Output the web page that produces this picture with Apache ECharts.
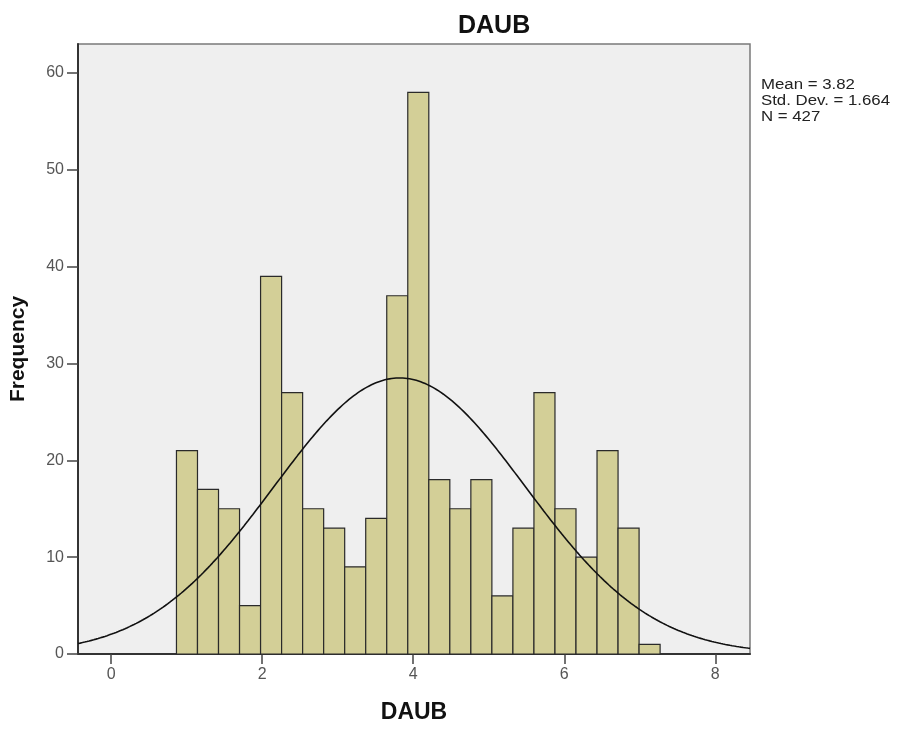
<!DOCTYPE html>
<html>
<head>
<meta charset="utf-8">
<title>DAUB</title>
<script src="https://cdn.jsdelivr.net/npm/echarts@6/dist/echarts.min.js"></script>
<style>
  html, body { margin: 0; padding: 0; background: #ffffff; }
  #chart { width: 901px; height: 729px; }
</style>
</head>
<body>
<div id="chart"></div>
<script>
// Histogram bins of DAUB: first bin's lower edge and common bin width
const binStart = 0.864;
const binWidth = 0.2785;
// Frequency per bin, left to right
const counts = [21, 17, 15, 5, 39, 27, 15, 13, 9, 14, 37, 58, 18, 15, 18, 6, 13, 27, 15, 10, 21, 13, 1];

// Summary statistics shown beside the plot
const statMean = 3.82;
const statSd = 1.664;
const statN = 427;

// Axis ticks
const xTicks = [0, 2, 4, 6, 8];
const yTicks = [0, 10, 20, 30, 40, 50, 60];
const xRange = [-0.44, 8.46];
const yRange = [0, 63];

const barData = counts.map((c, i) => [binStart + i * binWidth, binStart + (i + 1) * binWidth, c]);

// Normal curve scaled to the histogram (N * bin width * density)
const curveData = [];
const steps = 300;
for (let k = 0; k <= steps; k++) {
  const x = xRange[0] + (xRange[1] - xRange[0]) * k / steps;
  const z = (x - statMean) / statSd;
  const y = statN * binWidth * Math.exp(-0.5 * z * z) / (statSd * Math.sqrt(2 * Math.PI));
  curveData.push([x, y]);
}

const chart = echarts.init(document.getElementById('chart'), null, { renderer: 'canvas' });
const font = '"Liberation Sans", Arial, sans-serif';

chart.setOption({
  animation: false,
  backgroundColor: '#ffffff',
  grid: {
    left: 78, right: 151, top: 44, bottom: 71,
    show: true,
    backgroundColor: '#efefef',
    borderColor: '#7a7a7a',
    borderWidth: 1.5
  },
  xAxis: {
    type: 'value',
    min: xRange[0],
    max: xRange[1],
    name: 'DAUB',
    nameLocation: 'middle',
    nameGap: 47,
    nameTextStyle: { fontFamily: font, fontWeight: 'bold', fontSize: 23, color: '#111' },
    axisLine: { show: true, onZero: false, lineStyle: { color: '#333', width: 2 } },
    axisTick: { show: true, customValues: xTicks, length: 10, lineStyle: { color: '#444', width: 1.5 } },
    axisLabel: { customValues: xTicks, fontFamily: font, fontSize: 16, color: '#555', margin: 13 },
    splitLine: { show: false }
  },
  yAxis: {
    type: 'value',
    min: yRange[0],
    max: yRange[1],
    name: 'Frequency',
    nameLocation: 'middle',
    nameRotate: 90,
    nameGap: 49,
    nameTextStyle: { fontFamily: font, fontWeight: 'bold', fontSize: 21, color: '#111' },
    axisLine: { show: true, onZero: false, lineStyle: { color: '#333', width: 2 } },
    axisTick: { show: true, customValues: yTicks, length: 11, lineStyle: { color: '#444', width: 1.5 } },
    axisLabel: { customValues: yTicks, fontFamily: font, fontSize: 16, color: '#555', margin: 14 },
    splitLine: { show: false }
  },
  graphic: [
    {
      type: 'text', left: 458, top: 14,
      style: { text: 'DAUB', fontFamily: font, fontWeight: 'bold', fontSize: 25, fill: '#111' }
    },
    {
      type: 'text', left: 761, top: 77, scaleX: 1.2,
      style: {
        text: 'Mean = ' + statMean + '\nStd. Dev. = ' + statSd + '\nN = ' + statN,
        fontFamily: font, fontSize: 14, lineHeight: 16, fill: '#222'
      }
    }
  ],
  series: [
    {
      type: 'custom',
      data: barData,
      encode: { x: [0, 1], y: 2 },
      renderItem: function (params, api) {
        const p0 = api.coord([api.value(0), api.value(2)]);
        const p1 = api.coord([api.value(1), 0]);
        return {
          type: 'rect',
          shape: { x: p0[0], y: p0[1], width: p1[0] - p0[0], height: p1[1] - p0[1] },
          style: { fill: '#d3cf97', stroke: '#2a2a2a', lineWidth: 1.2 }
        };
      },
      z: 2
    },
    {
      type: 'line',
      data: curveData,
      showSymbol: false,
      smooth: false,
      lineStyle: { color: '#111', width: 1.6 },
      silent: true,
      z: 3
    }
  ]
});
</script>
</body>
</html>
